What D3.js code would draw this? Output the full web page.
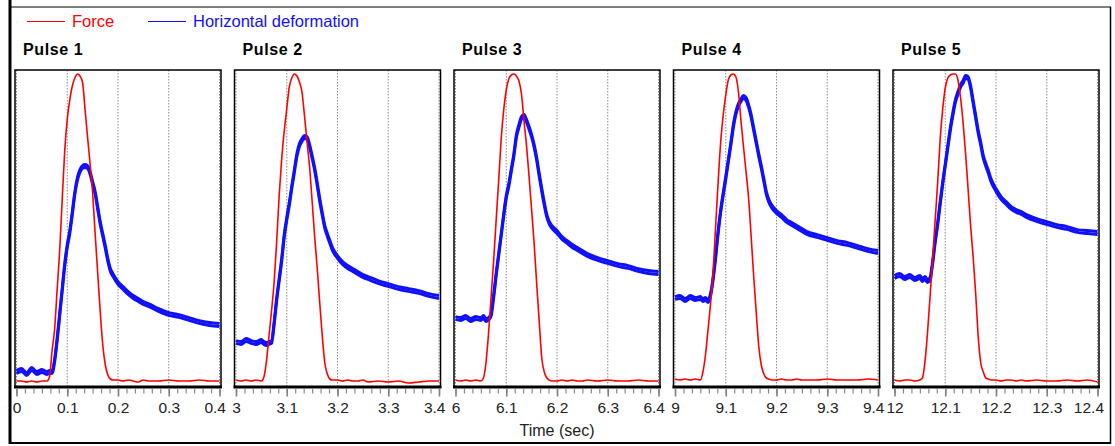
<!DOCTYPE html>
<html><head><meta charset="utf-8">
<script src="https://cdn.jsdelivr.net/npm/d3@7"></script>
<style>
body{margin:0;background:#fff;}
text{font-family:"Liberation Sans",Arial,Helvetica,sans-serif;}
</style>
</head><body>
<svg id="chart" width="1115" height="446"></svg>
<script>
// ---------- DATA ----------
const pulseLabels = ["Pulse 1", "Pulse 2", "Pulse 3", "Pulse 4", "Pulse 5"];
const pulseStarts = [0, 3, 6, 9, 12];
const tickLabels = [
  ["0", "0.1", "0.2", "0.3", "0.4"],
  ["3", "3.1", "3.2", "3.3", "3.4"],
  ["6", "6.1", "6.2", "6.3", "6.4"],
  ["9", "9.1", "9.2", "9.3", "9.4"],
  ["12", "12.1", "12.2", "12.3", "12.4"]
];
const seriesNames = ["Force", "Horizontal deformation"];
// time within each pulse (sec)
const relTime = [0,0.01,0.02,0.03,0.04,0.05,
  0.055,0.06,0.065,0.07,0.075,0.08,0.085,0.09,0.095,0.1,0.105,0.11,0.115,0.12,0.125,0.13,0.135,0.14,0.145,0.15,0.155,0.16,0.165,0.17,0.175,0.18,0.185,0.19,
  0.2,0.21,0.22,0.23,0.24,0.25,0.26,
  0.28,0.3,0.32,0.34,0.36,0.38,0.4];
// Force (relative units)
const force1 = [6,6,5,6,5,6, 6,6,10,36,57,97,136,187,236,268,287,301,309,313,311,305,278,250,223,194,153,114,75,42,22,12,8,7, 7,6,7,6,5,7,6, 6,7,6,6,7,6,6];
const force2 = [7,6,7,6,7,6, 10,26,51,76,104,144,191,228,256,278,300,309,313,311,305,295,271,245,220,186,150,119,84,51,24,13,8,7, 7,6,7,6,6,7,5, 6,5,6,4,5,6,6];
const force3 = [7,6,7,6,7,6, 9,24,53,89,125,166,206,248,277,297,308,312,313,311,306,293,266,241,210,177,143,103,65,29,15,9,7,6, 6,7,6,7,6,6,7, 6,7,6,6,7,6,6];
const force4 = [8,7,8,7,8,7, 15,32,57,83,115,160,205,245,272,292,307,312,313,310,295,266,240,215,189,151,111,75,41,22,13,9,8,7, 7,8,7,7,8,7,7, 7,8,7,7,7,8,7];
const force5 = [7,6,7,7,6,7, 9,25,54,90,127,166,204,248,278,299,309,312,313,313,307,290,265,234,198,161,130,93,50,24,15,9,8,7, 7,6,7,7,6,7,6, 7,6,6,7,6,7,5];
// Horizontal deformation (relative units)
const deform1 = [15,17,13,18,14,16, 15,14,15,15,26,47,72,97,122,141,155,174,194,208,216,220,221,220,214,204,194,179,164,152,140,127,117,112, 104,99,94,90,87,84,82, 77,73,71,68,65,63,62];
const deform2 = [45,44,47,45,44,46, 44,43,44,45,63,87,107,127,151,168,183,200,216,232,242,247,250,249,241,230,218,203,187,173,160,152,145,138, 130,124,120,117,114,111,109, 105,102,99,97,95,92,90];
const deform3 = [69,68,70,67,69,68, 70,67,68,72,90,112,132,152,172,190,202,217,232,251,261,269,271,266,259,251,241,228,212,197,183,171,164,160, 155,149,145,141,138,135,132, 128,125,122,120,117,115,114];
const deform4 = [89,90,87,90,88,89, 87,88,86,92,108,130,155,176,193,209,226,243,261,274,282,287,290,288,281,271,258,245,232,220,207,194,186,181, 175,171,166,163,160,157,154, 151,148,145,143,140,137,135];
const deform5 = [110,112,109,111,108,110, 107,109,106,108,124,145,163,184,204,222,240,258,273,286,294,301,305,310,309,300,285,270,255,243,230,222,215,207, 197,189,184,179,176,174,171, 167,164,161,159,156,155,154];
const forceSeries = [force1, force2, force3, force4, force5];
const deformSeries = [deform1, deform2, deform3, deform4, deform5];
const yMax = 317;
const pulseSpan = 0.4;

// ---------- LAYOUT ----------
const RED = "#ff0000", BLUE = "#1010ff";
const svg = d3.select("#chart");
const panelTop = 70, panelBottom = 387, panelW = 206, panelX0 = 15, panelStep = 219.5;

// outer frame
svg.append("line").attr("x1",10).attr("x2",1111).attr("y1",7).attr("y2",7).attr("stroke","#000").attr("stroke-width",1.2);
svg.append("line").attr("x1",10).attr("x2",10).attr("y1",0).attr("y2",444).attr("stroke","#000").attr("stroke-width",3);
svg.append("line").attr("x1",1110.5).attr("x2",1110.5).attr("y1",7).attr("y2",444).attr("stroke","#000").attr("stroke-width",1.5);
svg.append("line").attr("x1",10).attr("x2",1111).attr("y1",443).attr("y2",443).attr("stroke","#000").attr("stroke-width",2);

// legend
const legend = [{name: seriesNames[0], color: RED, x: 27}, {name: seriesNames[1], color: BLUE, x: 148}];
legend.forEach(l => {
  svg.append("line").attr("x1", l.x).attr("x2", l.x + 38).attr("y1", 21.5).attr("y2", 21.5)
     .attr("stroke", l.color).attr("stroke-width", 1);
  svg.append("text").attr("x", l.x + 45).attr("y", 27).attr("fill", l.color)
     .attr("font-size", 16.5).text(l.name);
});

const y = d3.scaleLinear().domain([0, yMax]).range([panelBottom, panelTop]);
const defs = svg.append("defs");

pulseLabels.forEach((lab, i) => {
  const left = panelX0 + i * panelStep;
  const start = pulseStarts[i];
  const x = d3.scaleLinear().domain([start, start + pulseSpan]).range([left + 1.5, left + panelW - 1.5]);
  const g = svg.append("g");

  // title
  g.append("text").attr("x", left + 8).attr("y", 55).attr("font-size", 16).attr("font-weight", "bold")
    .attr("fill", "#000").attr("letter-spacing", 0.6).text(lab);

  // panel background
  g.append("rect").attr("x", left).attr("y", panelTop).attr("width", panelW).attr("height", panelBottom - panelTop)
    .attr("fill", "#fff");

  // gridlines
  const majors = tickLabels[i].map((d, k) => start + k * 0.1);
  g.selectAll(".grid").data(majors).enter().append("line")
    .attr("x1", d => x(d)).attr("x2", d => x(d)).attr("y1", panelTop).attr("y2", panelBottom)
    .attr("stroke", "#8a8a8a").attr("stroke-width", 1).attr("stroke-dasharray", "1.5,1.5");

  // clip
  const cid = "clip" + i;
  defs.append("clipPath").attr("id", cid).append("rect")
    .attr("x", left).attr("y", panelTop).attr("width", panelW).attr("height", panelBottom - panelTop);

  const line = d3.line().x((d, k) => x(start + relTime[k])).y(d => y(d)).curve(d3.curveMonotoneX);
  const plot = g.append("g").attr("clip-path", `url(#${cid})`);
  // the measured deformation trace is noisy: draw it as a narrow vertical band
  [-1.4, 1.4].forEach(off => {
    plot.append("path").attr("d", line(deformSeries[i])).attr("fill", "none")
      .attr("transform", `translate(0,${off})`)
      .attr("stroke", BLUE).attr("stroke-width", 3).attr("stroke-linejoin", "round");
  });
  plot.append("path").attr("d", line(forceSeries[i])).attr("fill", "none")
    .attr("stroke", RED).attr("stroke-width", 1.6).attr("stroke-linejoin", "round");

  // frame
  g.append("rect").attr("x", left).attr("y", panelTop).attr("width", panelW).attr("height", panelBottom - panelTop)
    .attr("fill", "none").attr("stroke", "#000").attr("stroke-width", 1.5);
  g.append("line").attr("x1", left - 1).attr("x2", left + panelW + 1).attr("y1", panelBottom).attr("y2", panelBottom)
    .attr("stroke", "#000").attr("stroke-width", 3);

  // minor ticks
  const minorVals = d3.range(0, 25).map(k => start + k * pulseSpan / 24);
  const minorAxis = d3.axisBottom(x).tickValues(minorVals).tickSize(5).tickFormat("");
  const ma = g.append("g").attr("transform", `translate(0,${panelBottom + 1.5})`).call(minorAxis);
  ma.select(".domain").remove();
  ma.selectAll(".tick line").attr("stroke", "#888").attr("stroke-width", 1.2);

  // major ticks + labels
  const majorAxis = d3.axisBottom(x).tickValues(majors).tickSize(8)
    .tickFormat((d, k) => tickLabels[i][k]);
  const mj = g.append("g").attr("transform", `translate(0,${panelBottom + 1.5})`).call(majorAxis);
  mj.select(".domain").remove();
  mj.selectAll(".tick line").attr("stroke", "#808080").attr("stroke-width", 1.6);
  const nMaj = majors.length;
  mj.selectAll(".tick text").attr("font-size", 15.5).attr("fill", "#222")
    .attr("font-family", '"Liberation Sans",Arial,sans-serif').attr("dy", "0.71em").attr("y", 13)
    // last label sits flush against the next panel's first label
    .attr("text-anchor", (d, k) => k === nMaj - 1 ? "end" : "middle")
    .attr("x", (d, k) => k === nMaj - 1 ? 6 : 0);
});

// x-axis title
svg.append("text").attr("x", 557).attr("y", 436).attr("text-anchor", "middle")
  .attr("font-size", 16).attr("fill", "#222").text("Time (sec)");
</script>
</body></html>
